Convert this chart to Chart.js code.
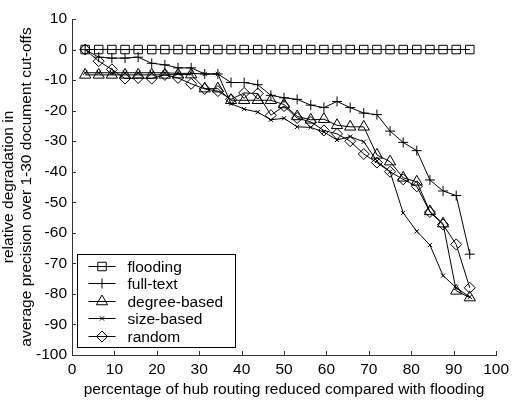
<!DOCTYPE html>
<html>
<head>
<meta charset="utf-8">
<script src="https://cdn.jsdelivr.net/npm/chart.js@4.4.1/dist/chart.umd.min.js"></script>
<style>
  body { margin: 0; background: #fff; }
  canvas { display: block; }
</style>
</head>
<body>
<canvas id="grafico" width="514" height="401"></canvas>
<script>
// x: percentage of hub routing reduced (same positions for every series)
var xValues = [3.1, 6.3, 9.4, 12.5, 15.6, 18.8, 21.9, 25, 28.1, 31.3,
               34.4, 37.5, 40.6, 43.8, 46.9, 50, 53.1, 56.3, 59.4, 62.5,
               65.6, 68.8, 71.9, 75, 78.1, 81.3, 84.4, 87.5, 90.6, 93.8];

var flooding = [0, 0, 0, 0, 0, 0, 0, 0, 0, 0,
                0, 0, 0, 0, 0, 0, 0, 0, 0, 0,
                0, 0, 0, 0, 0, 0, 0, 0, 0, 0];
var fullText = [0, -2.5, -2.8, -2.8, -2.5, -4.5, -5, -6, -6, -8,
                -8, -10.8, -10.8, -11.5, -15, -15.8, -16.3, -18.2, -19, -17,
                -19, -20.8, -21.3, -26.7, -30.4, -33.1, -42.7, -46.3, -47.8, -67];
var degreeBased = [-8.3, -8.3, -8.3, -8.3, -8.3, -8.3, -8.3, -8.2, -8.2, -12.8,
                   -12.8, -16.6, -16.6, -16.6, -16.6, -18, -21.9, -23, -22.8, -24.8,
                   -25.3, -25.3, -34.5, -36.7, -42, -43.3, -53, -57, -79, -81.2];
var sizeBased = [-7.6, -7.6, -7.6, -7.6, -7.6, -7.6, -7.6, -7.8, -7.8, -8,
                 -8, -17.7, -19.5, -20.5, -23, -22.5, -25.3, -25.5, -27, -29.6,
                 -28.5, -30.2, -36.5, -40, -53.5, -59.5, -64, -74, -78, -81];
var random = [0, -3.8, -6.5, -9.5, -9.3, -9.5, -8.3, -9.3, -11.2, -12.9,
              -13.6, -16.3, -14.2, -14.4, -21.5, -18.5, -22.4, -23.7, -26.5, -27.6,
              -30, -34.2, -37, -40, -42.5, -44.8, -53.2, -57.3, -63.8, -78];

var seriesNames = ['flooding', 'full-text', 'degree-based', 'size-based', 'random'];
var seriesValues = [flooding, fullText, degreeBased, sizeBased, random];
var seriesMarkers = ['rect', 'cross', 'triangle', 'crossRot', 'rectRot'];
var markerSizes = [6, 5, 6.5, 3, 5.5];

var xTicks = [0, 10, 20, 30, 40, 50, 60, 70, 80, 90, 100];
var yTicks = [10, 0, -10, -20, -30, -40, -50, -60, -70, -80, -90, -100];

var fonte = 'Arial, "Liberation Sans", sans-serif';
var corEixo = '#333';

function pontos(ys) {
    return ys.map(function (y, i) { return { x: xValues[i], y: y }; });
}

var datasets = seriesNames.map(function (nome, i) {
    return {
        label: nome,
        data: pontos(seriesValues[i]),
        borderColor: '#000',
        borderWidth: 1,
        backgroundColor: 'rgba(0,0,0,0)',
        pointStyle: seriesMarkers[i],
        pointRadius: markerSizes[i],
        pointHoverRadius: markerSizes[i],
        pointBorderColor: '#000',
        pointBackgroundColor: 'rgba(0,0,0,0)',
        pointBorderWidth: 1,
        fill: false,
        tension: 0
    };
});

// ticks pointing inside the axes, like the original
var ticksInternos = {
    id: 'ticksInternos',
    afterDraw: function (chart) {
        var ctx = chart.ctx, area = chart.chartArea;
        var x = chart.scales.x, y = chart.scales.y;
        ctx.save();
        ctx.strokeStyle = corEixo;
        ctx.lineWidth = 1;
        ctx.beginPath();
        xTicks.forEach(function (v) {
            var px = Math.round(x.getPixelForValue(v)) + 0.5;
            ctx.moveTo(px, area.bottom);
            ctx.lineTo(px, area.bottom - 4);
        });
        yTicks.forEach(function (v) {
            var py = Math.round(y.getPixelForValue(v)) + 0.5;
            ctx.moveTo(area.left, py);
            ctx.lineTo(area.left + 4, py);
        });
        ctx.stroke();
        ctx.restore();
    }
};

// legend box inside the lower-left corner of the plot
var legendaInterna = {
    id: 'legendaInterna',
    afterDraw: function (chart) {
        var ctx = chart.ctx, area = chart.chartArea;
        var left = area.left + 5.5, top = area.bottom - 100.5;
        var w = 158, h = 93;
        ctx.save();
        ctx.fillStyle = '#fff';
        ctx.fillRect(left, top, w, h);
        ctx.strokeStyle = '#000';
        ctx.lineWidth = 1;
        ctx.strokeRect(left, top, w, h);
        ctx.font = '15.5px ' + fonte;
        ctx.textBaseline = 'middle';
        ctx.textAlign = 'left';
        seriesNames.forEach(function (nome, i) {
            var yy = Math.round(top + 11 + i * 17.6) + 0.5;
            ctx.strokeStyle = '#000';
            ctx.beginPath();
            ctx.moveTo(left + 11, yy);
            ctx.lineTo(left + 38, yy);
            ctx.stroke();
            ctx.fillStyle = 'rgba(0,0,0,0)';
            Chart.helpers.drawPoint(ctx, {
                pointStyle: seriesMarkers[i],
                radius: markerSizes[i],
                rotation: 0,
                borderWidth: 1
            }, left + 24.5, yy);
            ctx.fillStyle = '#000';
            ctx.fillText(nome, left + 50, yy + 1);
        });
        ctx.restore();
    }
};

var ctx = document.getElementById('grafico').getContext('2d');

var grafico = new Chart(ctx, {
    type: 'line',
    data: { datasets: datasets },
    plugins: [ticksInternos, legendaInterna],
    options: {
        responsive: false,
        animation: false,
        events: [],
        layout: { padding: { top: 19, right: 12.5, bottom: 0, left: 0 } },
        plugins: {
            legend: { display: false },
            tooltip: { enabled: false }
        },
        scales: {
            x: {
                type: 'linear',
                min: 0,
                max: 100,
                afterFit: function (s) { s.height = 46; },
                afterBuildTicks: function (s) { s.ticks = xTicks.map(function (v) { return { value: v }; }); },
                grid: { display: false, drawTicks: false },
                border: { display: true, color: corEixo, width: 1 },
                ticks: { color: '#000', padding: 5, maxRotation: 0, font: { family: fonte, size: 15.5 } },
                title: {
                    display: true,
                    text: 'percentage of hub routing reduced compared with flooding',
                    color: '#000',
                    padding: { top: 0, bottom: 2 },
                    font: { family: fonte, size: 15.5, lineHeight: 1.16 }
                }
            },
            y: {
                type: 'linear',
                min: -100,
                max: 10,
                afterFit: function (s) { s.width = 72; },
                afterBuildTicks: function (s) { s.ticks = yTicks.map(function (v) { return { value: v }; }); },
                grid: { display: false, drawTicks: false },
                border: { display: true, color: corEixo, width: 1 },
                ticks: { color: '#000', padding: 5, font: { family: fonte, size: 15.5 } },
                title: {
                    display: true,
                    text: ['relative degradation in', 'average precision over 1-30 document cut-offs'],
                    color: '#000',
                    padding: { top: 0, bottom: 0 },
                    font: { family: fonte, size: 15.5, lineHeight: 1.16 }
                }
            }
        }
    }
});
</script>
</body>
</html>
